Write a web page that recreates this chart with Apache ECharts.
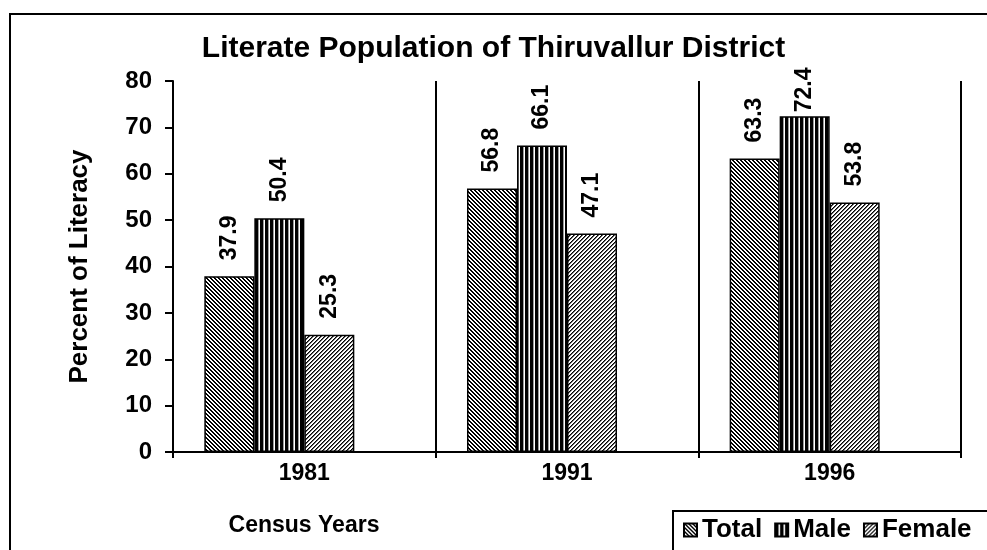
<!DOCTYPE html>
<html>
<head>
<meta charset="utf-8">
<script src="https://cdn.jsdelivr.net/npm/echarts@6/dist/echarts.min.js"></script>
<style>
html,body{margin:0;padding:0;background:#fff;}
#c{width:987px;height:550px;}
</style>
</head>
<body>
<div id="c"></div>
<script>
var categories = ['1981', '1991', '1996'];
var totalValues = [37.9, 56.8, 63.3];
var maleValues = [50.4, 66.1, 72.4];
var femaleValues = [25.3, 47.1, 53.8];
var yTicks = [0, 10, 20, 30, 40, 50, 60, 70, 80];

var FONT = 'Liberation Sans, Arial, sans-serif';

function makePattern(w, h, fn) {
  var cv = document.createElement('canvas');
  cv.width = w; cv.height = h;
  var ctx = cv.getContext('2d');
  for (var x = 0; x < w; x++) {
    for (var y = 0; y < h; y++) {
      ctx.fillStyle = fn(x, y);
      ctx.fillRect(x, y, 1, 1);
    }
  }
  return { image: cv, repeat: 'repeat' };
}
var totalPat = makePattern(4, 4, function (x, y) {
  var m = ((x - y) % 4 + 4) % 4;
  return m < 2 ? '#000' : '#fff';
});
var malePat = makePattern(5, 1, function (x) {
  return x < 3 ? '#000' : (x === 3 ? '#999' : '#fff');
});
var femalePat = makePattern(4, 4, function (x, y) {
  var m = (x + y) % 4;
  return m === 0 ? '#000' : (m === 1 ? '#666' : '#fff');
});

function labelCfg() {
  return {
    show: true, position: 'top', rotate: 90, align: 'left', verticalAlign: 'middle',
    distance: 16, color: '#000', fontFamily: FONT, fontWeight: 'bold', fontSize: 23
  };
}
function toData(arr) {
  return arr.map(function (v) {
    var d = { value: v };
    if (v > 70) d.label = { distance: 4 };
    return d;
  });
}
function barSeries(name, vals, pat) {
  return {
    name: name, type: 'bar', data: toData(vals), barWidth: 50, barGap: '0%',
    itemStyle: { color: pat, borderColor: '#000', borderWidth: 1.5 },
    label: labelCfg(), emphasis: { disabled: true }
  };
}

var chart = echarts.init(document.getElementById('c'), null, { renderer: 'canvas' });
chart.setOption({
  animation: false,
  backgroundColor: '#fff',
  title: {
    text: 'Literate Population of Thiruvallur District',
    left: 'center', top: 29,
    textStyle: { fontFamily: FONT, fontWeight: 'bold', fontSize: 30, color: '#000' }
  },
  graphic: [
    { type: 'rect', z: -10, shape: { x: 10, y: 14, width: 1000, height: 600 },
      style: { fill: 'none', stroke: '#000', lineWidth: 2 } },
    { type: 'rect', z: 10, shape: { x: 673, y: 511, width: 400, height: 100 },
      style: { fill: '#fff', stroke: '#000', lineWidth: 2 } },
    { type: 'text', z: 10, x: 304, y: 526,
      style: { text: 'Census Years', fill: '#000', font: 'bold 23px ' + FONT, textAlign: 'center', textVerticalAlign: 'middle' } }
  ],
  legend: {
    data: ['Total', 'Male', 'Female'],
    left: 683, top: 517, z: 20, padding: 0,
    itemWidth: 13, itemHeight: 13, itemGap: 12,
    icon: 'rect',
    textStyle: { fontFamily: FONT, fontWeight: 'bold', fontSize: 26, color: '#000' }
  },
  grid: { left: 173, right: 26, top: 81, bottom: 98, containLabel: false },
  xAxis: {
    type: 'category', data: categories, boundaryGap: true,
    axisLine: { lineStyle: { color: '#000', width: 2 } },
    axisTick: { show: true, length: 6, lineStyle: { color: '#000', width: 2 } },
    splitLine: { show: true, lineStyle: { color: '#000', width: 2 } },
    axisLabel: { color: '#000', fontFamily: FONT, fontWeight: 'bold', fontSize: 23, margin: 10 }
  },
  yAxis: {
    type: 'value', min: 0, max: 80, interval: 10,
    name: 'Percent of Literacy', nameLocation: 'middle', nameGap: 80,
    nameTextStyle: { color: '#000', fontFamily: FONT, fontWeight: 'bold', fontSize: 26 },
    axisLine: { show: true, lineStyle: { color: '#000', width: 2 } },
    axisTick: { show: true, length: 8, lineStyle: { color: '#000', width: 2 } },
    splitLine: { show: false },
    axisLabel: { color: '#000', fontFamily: FONT, fontWeight: 'bold', fontSize: 24, margin: 21,
      formatter: function (v) { return yTicks.indexOf(v) >= 0 ? String(v) : ''; } }
  },
  series: [
    barSeries('Total', totalValues, totalPat),
    barSeries('Male', maleValues, malePat),
    barSeries('Female', femaleValues, femalePat),
    { name: 'spacer', type: 'bar', data: ['-', '-', '-'], barWidth: 50, barGap: '0%', silent: true }
  ]
});
</script>
</body>
</html>
